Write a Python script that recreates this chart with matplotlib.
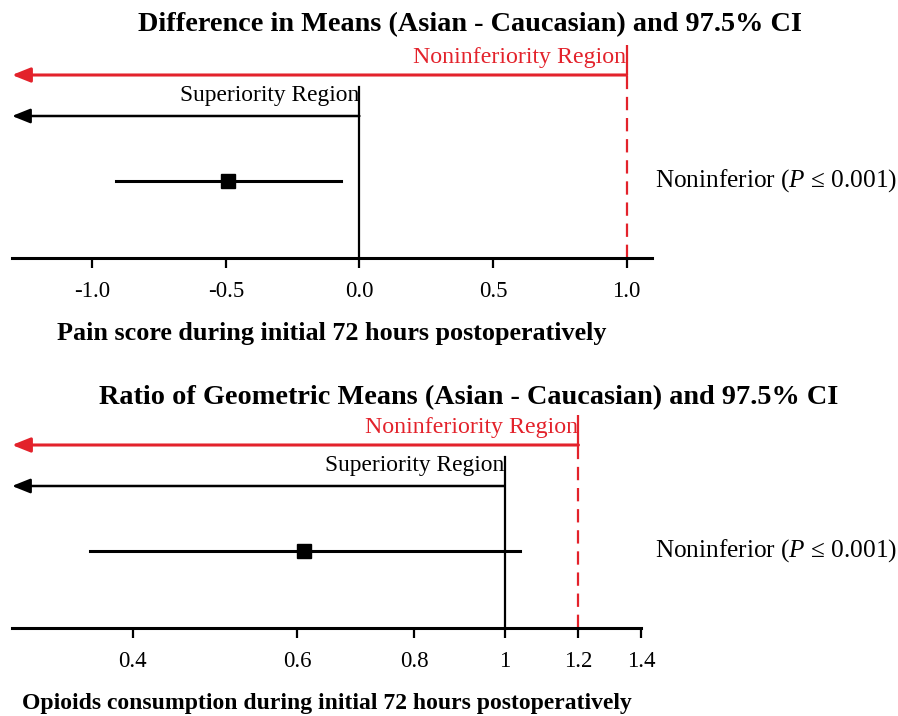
import matplotlib
matplotlib.use("Agg")
import matplotlib.pyplot as plt
from matplotlib.transforms import blended_transform_factory

plt.rcParams['font.family'] = ['Liberation Serif', 'DejaVu Serif']
plt.rcParams['mathtext.fontset'] = 'custom'
plt.rcParams['mathtext.rm'] = 'Liberation Serif'
plt.rcParams['mathtext.it'] = 'Liberation Serif:italic'

# ---- data ----
titles = ["Difference in Means (Asian - Caucasian) and 97.5% CI",
          "Ratio of Geometric Means (Asian - Caucasian) and 97.5% CI"]
xlabels = ["Pain score during initial 72 hours postoperatively",
           "Opioids consumption during initial 72 hours postoperatively"]
estimates = [-0.49, 0.61]
ci_low = [-0.91, 0.36]
ci_high = [-0.07, 1.04]
superiority_margin = [0.0, 1.0]
noninferiority_margin = [1.0, 1.2]
xlims = [(-1.30, 1.095), (0.297, 1.40)]
ticks_top = [-1.0, -0.5, 0.0, 0.5, 1.0]
ticklabels_top = ["-1.0", "-0.5", "0.0", "0.5", "1.0"]
ticks_bottom = [0.4, 0.6, 0.8, 1.0, 1.2, 1.4]
ticklabels_bottom = ["0.4", "0.6", "0.8", "1", "1.2", "1.4"]
result_text = "Noninferior ($P$ ≤ 0.001)"

RED = '#e3222b'
W, H = 898, 716
fig = plt.figure(figsize=(W / 100, H / 100), dpi=100)

# axes placements in pixels: (left, right, top, bottom)
placements = [(12, 652, 40, 258), (12, 641, 410, 628)]
title_x = [470, 469]
title_base = [31, 404]
xlabel_x = [332, 327]
xlabel_base = [340, 709]
xlabel_size = [18.8, 17]

for i in range(2):
    l, r, t, b = placements[i]
    ah = b - t
    ax = fig.add_axes([l / W, 1 - b / H, (r - l) / W, ah / H])
    if i == 1:
        ax.set_xscale('log')
    ax.set_xlim(*xlims[i])
    ax.set_ylim(0, 218)
    for s in ['top', 'right', 'left']:
        ax.spines[s].set_visible(False)
    ax.spines['bottom'].set_linewidth(2.2)
    ax.set_yticks([])
    if i == 0:
        ax.set_xticks(ticks_top)
        ax.set_xticklabels(ticklabels_top)
    else:
        ax.set_xticks(ticks_bottom)
        ax.set_xticklabels(ticklabels_bottom)
        ax.xaxis.set_minor_locator(matplotlib.ticker.NullLocator())
    ax.tick_params(axis='x', direction='out', length=7.5, width=1.6,
                   labelsize=16.5, pad=9)

    x0 = xlims[i][0]
    nm = noninferiority_margin[i]
    sm = superiority_margin[i]

    # noninferiority region (red)
    ax.annotate('', xy=(x0, 183), xytext=(nm, 183),
                arrowprops=dict(arrowstyle='-|>,head_length=0.55,head_width=0.22',
                                color=RED, lw=2.2, mutation_scale=20,
                                shrinkA=0, shrinkB=0))
    ax.plot([nm, nm], [183, 213], color=RED, lw=1.6, solid_capstyle='butt')
    ax.plot([nm, nm], [0, 183], color=RED, lw=1.6, linestyle=(0, (6, 3.5)))
    ax.text(nm, 201, "Noninferiority Region", color=RED, ha='right',
            va='center', fontsize=17.2)

    # superiority region (black)
    ax.annotate('', xy=(x0, 142), xytext=(sm, 142),
                arrowprops=dict(arrowstyle='-|>,head_length=0.55,head_width=0.22',
                                color='black', lw=1.8, mutation_scale=20,
                                shrinkA=0, shrinkB=0))
    ax.plot([sm, sm], [0, 171], color='black', lw=1.6)
    ax.text(sm, 163, "Superiority Region", color='black', ha='right',
            va='center', fontsize=16.8)

    # estimate and CI
    ax.plot([ci_low[i], ci_high[i]], [77, 77], color='black', lw=2.2)
    ax.plot([estimates[i]], [77], marker='s', markersize=10, color='black')

    trans = blended_transform_factory(fig.transFigure, ax.transData)
    fig.text(655 / W, 77, result_text, transform=trans, ha='left', va='center',
             fontsize=18.2)

    ax.set_title(titles[i], fontsize=20.3, fontweight='bold',
                 x=(title_x[i] - l) / (r - l),
                 y=1 + (t - title_base[i]) / ah, pad=0)
    ax.title.set_va('baseline')
    ax.set_xlabel(xlabels[i], fontsize=xlabel_size[i], fontweight='bold')
    ax.xaxis.label.set_va('baseline')
    ax.xaxis.set_label_coords((xlabel_x[i] - l) / (r - l),
                              -(xlabel_base[i] - b) / ah)

fig.savefig('out.png', dpi=100)
